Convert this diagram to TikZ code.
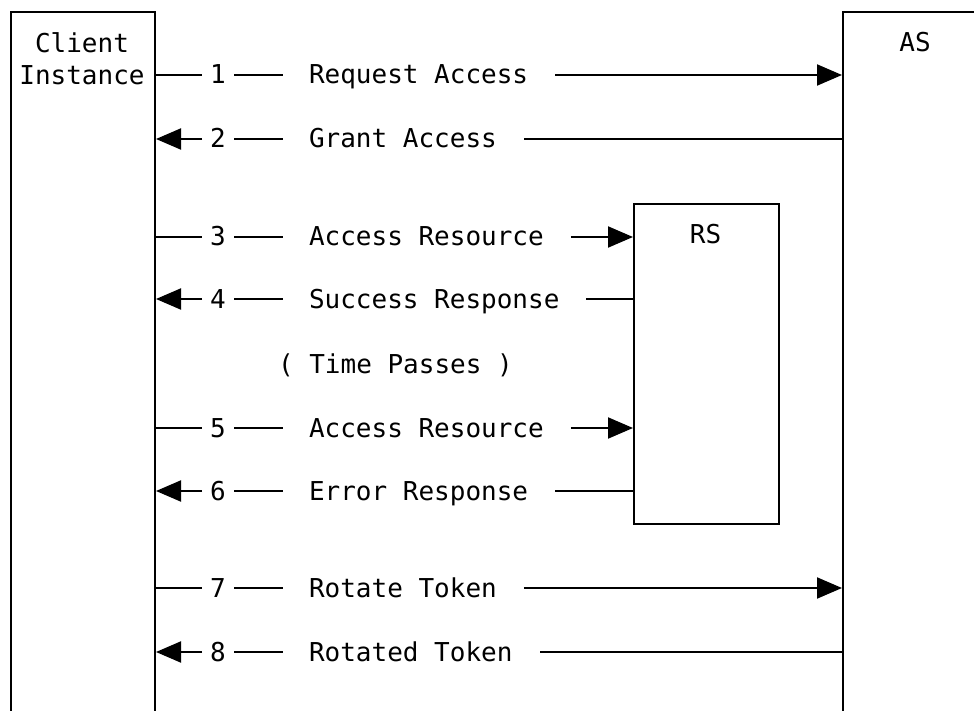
\documentclass[tikz,border=0pt]{standalone}
\usepackage{fontspec}
\setmonofont{DejaVu Sans Mono}
\usetikzlibrary{arrows.meta}
\begin{document}
\begin{tikzpicture}[x=1pt,y=-1pt, line width=2pt,
  box/.style={draw, line width=2pt, inner sep=0pt, anchor=north west},
  lbl/.style={font=\ttfamily\fontsize{26}{32}\selectfont, inner sep=0pt, text height=18pt, text depth=0pt},
  num/.style={lbl, minimum width=30pt},
  msg/.style={lbl, anchor=west},
  tip/.style={-{Triangle[length=25pt,width=21pt]}},
  gap/.style={xshift=26pt}]
\useasboundingbox (0,0) rectangle (974,711);
\clip (0,0) rectangle (974,711);
% boxes
\node[box, minimum width=144pt, minimum height=760pt] (client) at (10,11) {};
\node[box, minimum width=146pt, minimum height=760pt] (as) at (842,11) {};
\node[box, minimum width=145pt, minimum height=320pt] (rs) at (633,203) {};
\node[font=\ttfamily\fontsize{26}{32}\selectfont, align=center, inner sep=0pt] (cl) at (82,58.5) {Client\\Instance};
\node[lbl] (asl) at (915,43) {AS};
\node[lbl] (rsl) at (705.5,235) {RS};
% row 1
\node[num] (n1) at (218,75) {1};
\node[msg] (m1) at (308,75) {Request Access};
\draw (client.east |- n1) -- (n1.west);
\draw (n1.east) -- ++(49,0);
\draw[tip] ([gap]m1.east) -- (as.west |- m1);
% row 2
\node[num] (n2) at (218,139) {2};
\node[msg] (m2) at (308,139) {Grant Access};
\draw[tip] (n2.west) -- (client.east |- n2);
\draw (n2.east) -- ++(49,0);
\draw (as.west |- m2) -- ([gap]m2.east);
% row 3
\node[num] (n3) at (218,237) {3};
\node[msg] (m3) at (308,237) {Access Resource};
\draw (client.east |- n3) -- (n3.west);
\draw (n3.east) -- ++(49,0);
\draw[tip] ([gap]m3.east) -- (rs.west |- m3);
% row 4
\node[num] (n4) at (218,299) {4};
\node[msg] (m4) at (308,299) {Success Response};
\draw[tip] (n4.west) -- (client.east |- n4);
\draw (n4.east) -- ++(49,0);
\draw (rs.west |- m4) -- ([gap]m4.east);
% time passes
\node[msg] (tp) at (277,364) {( Time Passes )};
% row 5
\node[num] (n5) at (218,428) {5};
\node[msg] (m5) at (308,428) {Access Resource};
\draw (client.east |- n5) -- (n5.west);
\draw (n5.east) -- ++(49,0);
\draw[tip] ([gap]m5.east) -- (rs.west |- m5);
% row 6
\node[num] (n6) at (218,491) {6};
\node[msg] (m6) at (308,491) {Error Response};
\draw[tip] (n6.west) -- (client.east |- n6);
\draw (n6.east) -- ++(49,0);
\draw (rs.west |- m6) -- ([gap]m6.east);
% row 7
\node[num] (n7) at (218,588) {7};
\node[msg] (m7) at (308,588) {Rotate Token};
\draw (client.east |- n7) -- (n7.west);
\draw (n7.east) -- ++(49,0);
\draw[tip] ([gap]m7.east) -- (as.west |- m7);
% row 8
\node[num] (n8) at (218,652) {8};
\node[msg] (m8) at (308,652) {Rotated Token};
\draw[tip] (n8.west) -- (client.east |- n8);
\draw (n8.east) -- ++(49,0);
\draw (as.west |- m8) -- ([gap]m8.east);
\end{tikzpicture}
\end{document}
